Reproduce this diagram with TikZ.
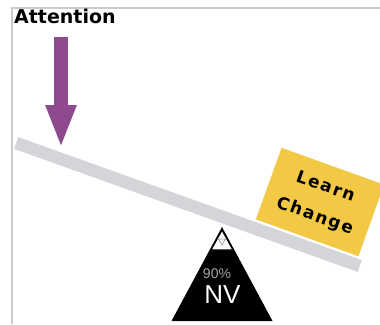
\documentclass[tikz,border=0pt]{standalone}
\usepackage{fontspec}
\setmainfont{DejaVu Sans}
\newfontfamily\boxfont[LetterSpace=10]{DejaVu Sans}
\newfontfamily\nvfont{Liberation Sans}
\usepackage{tikz}
\usetikzlibrary{arrows.meta}
\definecolor{attnPurple}{RGB}{143,74,143}
\definecolor{beamGray}{RGB}{211,213,217}
\definecolor{frameGray}{RGB}{204,204,204}
\definecolor{boxGold}{RGB}{242,200,68}
\definecolor{pctGray}{RGB}{165,165,165}

\begin{document}
\begin{tikzpicture}[x=1pt, y=-1pt,
  beam/.style={fill=beamGray, minimum width=365pt, minimum height=12.5pt,
               inner sep=0pt, rotate=-19.7},
  learnbox/.style={fill=boxGold, minimum width=109pt, minimum height=76pt,
                   inner sep=0pt, rotate=-19.8, align=center,
                   font=\boxfont\bfseries\fontsize{17}{31}\selectfont},
  push/.style={attnPurple, line width=14pt, -{Triangle[length=43pt, width=28pt]}},
]
  \clip (0,0) rectangle (380,324);
  \fill[white] (0,0) rectangle (380,324);
  \draw[frameGray, line width=1.5pt] (12,324) -- (12,8) -- (380,8);

  \node[anchor=north west, inner sep=0pt, font=\bfseries\fontsize{19}{22}\selectfont]
    (attn) at (14,9) {Attention};

  \node[beam] (beam) at (188,204.5) {};
  \node[learnbox] (learn) at (320,202) {Learn\\Change};

  \coordinate (pushtop) at (61,37);
  \coordinate (pushhit) at (61,148);
  \draw[push] (pushtop) -- (pushhit);

  \coordinate (apex) at (222,227);
  \fill[black] (apex) -- (272.5,321) -- (171.5,321) -- cycle;
  \filldraw[fill=white, draw=black, line width=1.2pt]
    (222,230) -- (233,250) -- (211,250) -- cycle;
  \draw[pctGray, line width=0.8pt] (218.5,239) -- (225.5,239) -- (222,245) -- cycle;

  \node[text=pctGray, font=\nvfont\fontsize{14}{14}\selectfont] (pct) at (217,273.5) {90\%};
  \node[text=white, font=\nvfont\fontsize{26}{26}\selectfont] (nv) at (222.5,295) {NV};
\end{tikzpicture}
\end{document}
